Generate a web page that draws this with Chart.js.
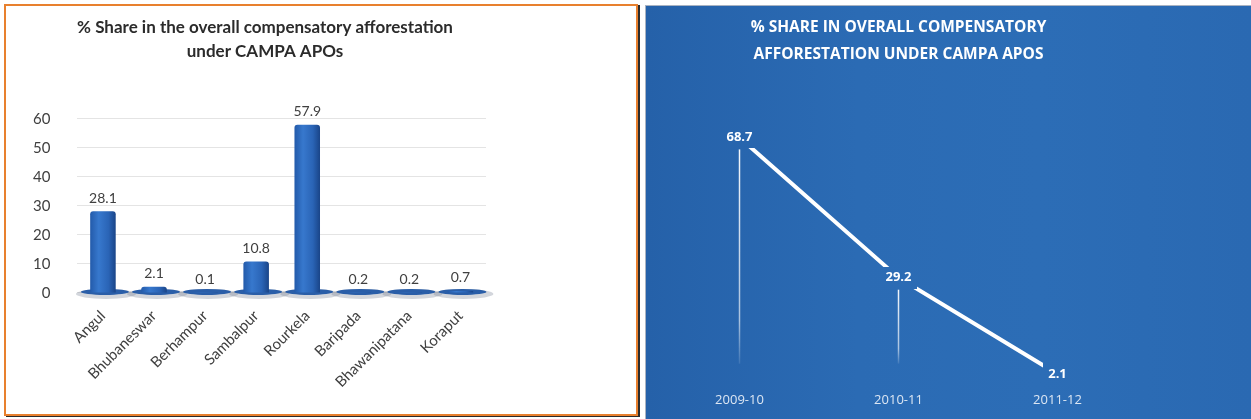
<!DOCTYPE html>
<html>
<head>
<meta charset="utf-8">
<title>CAMPA APOs share</title>
<script src="https://cdn.jsdelivr.net/npm/chart.js@4.4.1/dist/chart.umd.min.js"></script>
<style>
  body { margin: 0; background: #fff; width: 1251px; height: 419px; position: relative; overflow: hidden; }
  #leftPanel {
    position: absolute; left: 4px; top: 4px; width: 630px; height: 408px;
    border: 2px solid #e8802e; background: #fff; box-shadow: 2px 1px 0 #2b2b2b;
  }
  #rightPanel {
    position: absolute; left: 645px; top: 5px; width: 605px; height: 413px;
    border: 1px solid #a9b3c2;
    background: linear-gradient(90deg, #2561a9 0%, #2b6bb4 35%, #2c6db6 65%, #2a69b2 100%);
  }
  canvas { position: absolute; left: 0; top: 0; }
</style>
</head>
<body>
<div id="leftPanel"><canvas id="districtChart" width="630" height="408"></canvas></div>
<div id="rightPanel"><canvas id="yearChart" width="605" height="413"></canvas></div>

<script>
// Left chart: share by district
const districts = ['Angul', 'Bhubaneswar', 'Berhampur', 'Sambalpur', 'Rourkela', 'Baripada', 'Bhawanipatana', 'Koraput'];
const districtShare = [28.1, 2.1, 0.1, 10.8, 57.9, 0.2, 0.2, 0.7];
const districtTicks = [0, 10, 20, 30, 40, 50, 60];
const districtTitle = ['% Share in the overall compensatory afforestation', 'under CAMPA APOs'];

// Right chart: share by year
const years = ['2009-10', '2010-11', '2011-12'];
const yearShare = [68.7, 29.2, 2.1];
const yearTitle = ['% SHARE IN OVERALL COMPENSATORY', 'AFFORESTATION UNDER CAMPA APOS'];

// horizontal gradient so the bars look a bit like the 3D columns
function barFill(c) {
    const chart = c.chart;
    if (!chart.chartArea) return '#2f68b6';
    const x = chart.scales.x.getPixelForValue(c.dataIndex);
    const g = chart.ctx.createLinearGradient(x - 14, 0, x + 14, 0);
    g.addColorStop(0, '#2056a5');
    g.addColorStop(0.35, '#3778cd');
    g.addColorStop(0.7, '#2a64b6');
    g.addColorStop(1, '#173f80');
    return g;
}

// floor shadow under every bar + value labels
const barDecor = {
    id: 'barDecor',
    beforeDatasetsDraw(chart) {
        const ctx = chart.ctx;
        const base = chart.scales.y.getPixelForValue(0);
        ctx.save();
        chart.getDatasetMeta(0).data.forEach(bar => {
            ctx.fillStyle = 'rgba(110,120,140,0.30)';
            ctx.beginPath();
            ctx.ellipse(bar.x + 3, base + 1, 30, 5, 0, 0, Math.PI * 2);
            ctx.fill();
            ctx.fillStyle = '#2a5ea8';
            ctx.beginPath();
            ctx.ellipse(bar.x + 2, base - 1, 24, 3, 0, 0, Math.PI * 2);
            ctx.fill();
        });
        ctx.restore();
    },
    afterDatasetsDraw(chart) {
        const ctx = chart.ctx;
        ctx.save();
        ctx.font = '14px Lato, sans-serif';
        ctx.fillStyle = '#404040';
        ctx.textAlign = 'center';
        ctx.textBaseline = 'bottom';
        chart.getDatasetMeta(0).data.forEach((bar, i) => {
            ctx.fillText(districtShare[i].toFixed(1), bar.x, bar.y - 6);
        });
        ctx.restore();
    }
};

// gaps in the line behind each label, drop lines and the labels
const lineLabels = {
    id: 'lineLabels',
    afterDatasetsDraw(chart) {
        const ctx = chart.ctx;
        const yScale = chart.scales.y;
        ctx.save();
        ctx.font = 'bold 13px "Open Sans", sans-serif';
        chart.getDatasetMeta(0).data.forEach((pt, i) => {
            const txt = yearShare[i].toFixed(1);
            const tw = ctx.measureText(txt).width;
            ctx.clearRect(pt.x - tw / 2 - 5, pt.y - 11, tw + 10, 22);
            const yEnd = yScale.getPixelForValue(5);
            const yStart = pt.y + 12;
            if (yEnd - yStart > 10) {
                const g = ctx.createLinearGradient(0, yStart, 0, yEnd);
                g.addColorStop(0, 'rgba(255,255,255,0.95)');
                g.addColorStop(0.8, 'rgba(255,255,255,0.6)');
                g.addColorStop(1, 'rgba(255,255,255,0.1)');
                ctx.strokeStyle = g;
                ctx.lineWidth = 1.5;
                ctx.beginPath();
                ctx.moveTo(pt.x, yStart);
                ctx.lineTo(pt.x, yEnd);
                ctx.stroke();
            }
            ctx.fillStyle = '#ffffff';
            ctx.textAlign = 'center';
            ctx.textBaseline = 'middle';
            ctx.fillText(txt, pt.x, pt.y);
        });
        ctx.restore();
    }
};

new Chart(document.getElementById('districtChart'), {
    type: 'bar',
    data: {
        labels: districts,
        datasets: [{
            data: districtShare,
            backgroundColor: barFill,
            borderRadius: { topLeft: 3, topRight: 3 },
            borderSkipped: 'bottom',
            barPercentage: 0.5,
            categoryPercentage: 1
        }]
    },
    options: {
        responsive: false,
        animation: false,
        devicePixelRatio: 1,
        layout: { padding: { left: 0, right: 112, top: 0, bottom: 17 } },
        plugins: {
            legend: { display: false },
            tooltip: { enabled: false },
            title: {
                display: true,
                text: districtTitle,
                color: '#2b2b2b',
                font: { family: 'Lato, sans-serif', size: 17, weight: 'bold', lineHeight: 1.45 },
                padding: { top: 9, bottom: 37 }
            }
        },
        scales: {
            x: {
                grid: { display: false },
                border: { display: false },
                ticks: {
                    color: '#404040',
                    font: { family: 'Lato, sans-serif', size: 15 },
                    minRotation: 45,
                    maxRotation: 45,
                    padding: 6
                }
            },
            y: {
                min: 0,
                max: 66,
                afterBuildTicks: s => { s.ticks = districtTicks.map(v => ({ value: v })); },
                grid: { color: '#e4e4e4', drawTicks: false },
                border: { display: false },
                ticks: {
                    color: '#404040',
                    font: { family: 'Lato, sans-serif', size: 15 },
                    padding: 27
                }
            },
            // empty right-hand strip, keeps the title centred a little right of the plot like the original
            yRight: {
                position: 'right',
                min: 0,
                max: 66,
                grid: { display: false },
                border: { display: false },
                ticks: { display: false },
                afterFit: s => { s.width = 38; }
            }
        }
    },
    plugins: [barDecor]
});

new Chart(document.getElementById('yearChart'), {
    type: 'line',
    data: {
        labels: years,
        datasets: [{
            data: yearShare,
            borderColor: '#ffffff',
            borderWidth: 4,
            pointRadius: 0,
            tension: 0,
            clip: false
        }]
    },
    options: {
        responsive: false,
        animation: false,
        devicePixelRatio: 1,
        layout: { padding: { left: 14, right: 114, top: 0, bottom: 0 } },
        plugins: {
            legend: { display: false },
            tooltip: { enabled: false },
            title: {
                display: true,
                text: yearTitle,
                color: '#ffffff',
                font: { family: '"Open Sans", sans-serif', size: 15.5, weight: 'bold', lineHeight: 1.75 },
                padding: { top: 8, bottom: 29 }
            }
        },
        scales: {
            x: {
                offset: true,
                grid: { display: false, drawTicks: false },
                border: { display: false },
                ticks: {
                    color: '#dce6f3',
                    font: { family: '"Open Sans", sans-serif', size: 13 },
                    padding: 11
                }
            },
            y: { display: false, min: 0, max: 80 }
        }
    },
    plugins: [lineLabels]
});
</script>
</body>
</html>
